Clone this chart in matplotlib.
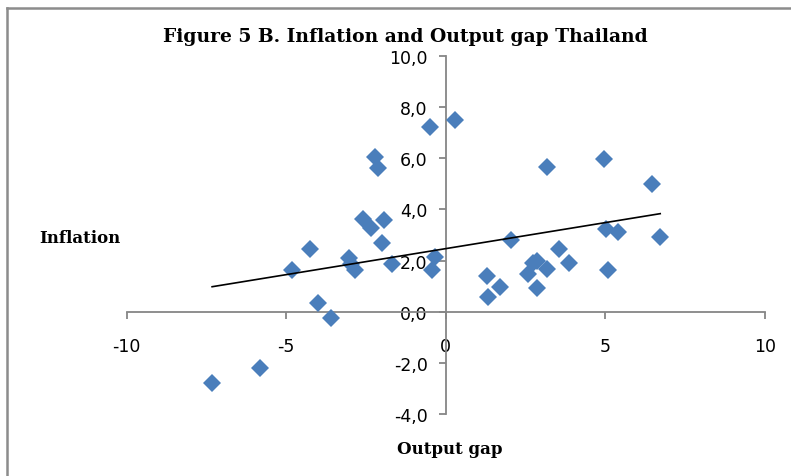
import numpy as np
import matplotlib
matplotlib.use('Agg')
import matplotlib.pyplot as plt
from matplotlib.ticker import FuncFormatter
from matplotlib.lines import Line2D

# Output gap (x) and inflation (y)
output_gap = [-7.32, -5.82, -4.81, -4.25, -4.00, -3.59, -3.03, -2.98, -2.84,
              -2.59, -2.34, -2.21, -2.12, -1.99, -1.93, -1.68, -0.49, 0.30,
              -0.42, -0.33, 1.30, 1.33, 1.71, 2.05, 2.59, 2.75, 2.87, 2.87,
              3.18, 3.18, 3.56, 3.87, 4.96, 5.03, 5.09, 5.41, 6.47, 6.72]
inflation = [-2.77, -2.19, 1.64, 2.46, 0.35, -0.23, 2.10, 1.88, 1.64,
             3.63, 3.28, 6.05, 5.62, 2.70, 3.59, 1.88, 7.23, 7.50,
             1.64, 2.15, 1.41, 0.59, 0.98, 2.81, 1.48, 1.90, 2.00, 0.94,
             1.68, 5.66, 2.46, 1.91, 5.97, 3.24, 1.64, 3.12, 5.00, 2.93]

x_ticks = [-10, -5, 0, 5, 10]
y_ticks = [-4, -2, 0, 2, 4, 6, 8, 10]

x = np.array(output_gap)
y = np.array(inflation)

fig = plt.figure(figsize=(7.91, 4.77), dpi=100)
ax = fig.add_axes([0.160, 0.130, 0.807, 0.7505])

ax.plot(x, y, 'D', color='#4A7EBB', markersize=8.8, markeredgewidth=0, zorder=3)

# linear trend line over the data range
slope, icpt = np.polyfit(x, y, 1)
xs = np.array([x.min(), x.max()])
ax.plot(xs, slope * xs + icpt, color='black', lw=1.2, zorder=4)

ax.set_xlim(-10, 10)
ax.set_ylim(-4, 10)
ax.set_xticks(x_ticks)
ax.set_yticks(y_ticks)

for s in ['top', 'right']:
    ax.spines[s].set_visible(False)
ax.spines['left'].set_position(('data', 0))
ax.spines['bottom'].set_position(('data', 0))
for s in ['left', 'bottom']:
    ax.spines[s].set_color('#868686')
    ax.spines[s].set_linewidth(1.3)

ax.tick_params(axis='both', direction='out', length=5, width=1.3, color='#868686',
               labelsize=12.5, labelcolor='black')
ax.tick_params(axis='x', pad=13)
ax.tick_params(axis='y', pad=8)
ax.yaxis.set_major_formatter(FuncFormatter(lambda v, p: f'{v:.1f}'.replace('.', ',')))
ax.xaxis.set_major_formatter(FuncFormatter(lambda v, p: f'{v:.0f}'))
for lab in ax.get_xticklabels() + ax.get_yticklabels():
    lab.set_family('DejaVu Sans')

fig.text(0.513, 0.922, 'Figure 5 B. Inflation and Output gap Thailand',
         ha='center', va='center', fontsize=13.5, fontweight='bold', family='DejaVu Serif')
fig.text(0.049, 0.501, 'Inflation', ha='left', va='center', fontsize=12,
         fontweight='bold', family='DejaVu Serif')
fig.text(0.568, 0.058, 'Output gap', ha='center', va='center', fontsize=12,
         fontweight='bold', family='DejaVu Serif')

# chart frame (left and top edges visible)
fig.add_artist(Line2D([0.0088, 0.0088], [0, 0.981], transform=fig.transFigure,
                      color='#8c8c8c', lw=1.8))
fig.add_artist(Line2D([0.0088, 1.0], [0.981, 0.981], transform=fig.transFigure,
                      color='#8c8c8c', lw=1.8))

fig.savefig('out.png', dpi=100)
